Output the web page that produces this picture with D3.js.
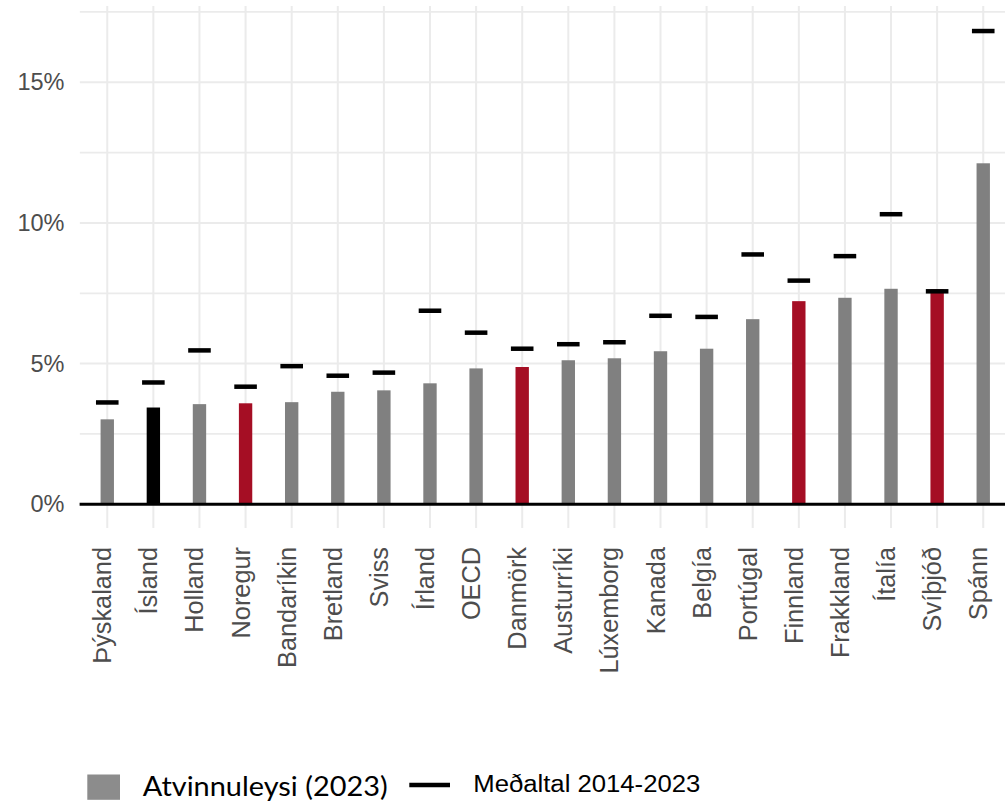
<!DOCTYPE html>
<html>
<head>
<meta charset="utf-8">
<script src="https://cdn.jsdelivr.net/npm/d3@7"></script>
<style>
  html, body { margin: 0; padding: 0; background: #fff; }
  svg { display: block; }
</style>
</head>
<body>
<div id="chart"></div>
<script>
const categories = ["Þýskaland", "Ísland", "Holland", "Noregur", "Bandaríkin", "Bretland", "Sviss", "Írland", "OECD", "Danmörk", "Austurríki", "Lúxemborg", "Kanada", "Belgía", "Portúgal", "Finnland", "Frakkland", "Ítalía", "Svíþjóð", "Spánn"];
const unemployment2023 = [3.02, 3.44, 3.56, 3.59, 3.63, 4.00, 4.05, 4.30, 4.83, 4.88, 5.12, 5.19, 5.44, 5.53, 6.58, 7.22, 7.34, 7.66, 7.64, 12.12];
const average2014_2023 = [3.62, 4.33, 5.47, 4.18, 4.91, 4.57, 4.68, 6.88, 6.10, 5.53, 5.69, 5.76, 6.70, 6.66, 8.88, 7.95, 8.82, 10.31, 7.57, 16.82];
const groups = ["other", "iceland", "other", "nordic", "other", "other", "other", "other", "other", "nordic", "other", "other", "other", "other", "other", "nordic", "other", "other", "nordic", "other"];
const majorTicks = [0, 5, 10, 15];
const majorTickLabels = ["0%", "5%", "10%", "15%"];
const minorTicks = [2.5, 7.5, 12.5, 17.5];
const legendLabels = ["Atvinnuleysi (2023)", "Meðaltal 2014-2023"];

const W = 1005, H = 802;
const groupColor = { other: "#808080", iceland: "#000000", nordic: "#a50e24" };

const svg = d3.select("#chart").append("svg").attr("width", W).attr("height", H);

const panel = { left: 79.6, right: 1010.9, top: 6, bottom: 528 };

const x = d3.scalePoint().domain(categories).range([panel.left, panel.right]).padding(0.6);
const y = d3.scaleLinear().domain([-0.842, 17.71]).range([panel.bottom, panel.top]);
const step = x.step();

svg.append("defs").append("clipPath").attr("id", "clip")
  .append("rect").attr("x", panel.left).attr("y", panel.top)
  .attr("width", W - panel.left).attr("height", panel.bottom - panel.top);

const grid = svg.append("g").attr("clip-path", "url(#clip)");
grid.selectAll("line.hmin").data(minorTicks).join("line")
  .attr("x1", panel.left).attr("x2", W)
  .attr("y1", d => y(d)).attr("y2", d => y(d))
  .attr("stroke", "#ebebeb").attr("stroke-width", 1.8);
grid.selectAll("line.hmaj").data(majorTicks).join("line")
  .attr("x1", panel.left).attr("x2", W)
  .attr("y1", d => y(d)).attr("y2", d => y(d))
  .attr("stroke", "#ebebeb").attr("stroke-width", 2);
grid.selectAll("line.v").data(categories).join("line")
  .attr("x1", d => x(d)).attr("x2", d => x(d))
  .attr("y1", panel.top).attr("y2", panel.bottom)
  .attr("stroke", "#ebebeb").attr("stroke-width", 2);

const data = categories.map((c, i) => ({ c, v: unemployment2023[i], m: average2014_2023[i], g: groups[i] }));

const barW = step * 0.29;
svg.append("g").selectAll("rect").data(data).join("rect")
  .attr("x", d => x(d.c) - barW / 2)
  .attr("width", barW)
  .attr("y", d => y(d.v))
  .attr("height", d => y(0) - y(d.v))
  .attr("fill", d => groupColor[d.g]);

svg.append("line")
  .attr("x1", panel.left).attr("x2", W)
  .attr("y1", y(0)).attr("y2", y(0))
  .attr("stroke", "#000").attr("stroke-width", 3);

const tickW = step * 0.49;
svg.append("g").selectAll("line").data(data).join("line")
  .attr("x1", d => x(d.c) - tickW / 2).attr("x2", d => x(d.c) + tickW / 2)
  .attr("y1", d => y(d.m)).attr("y2", d => y(d.m))
  .attr("stroke", "#000").attr("stroke-width", 4.5);

const yAxis = d3.axisLeft(y).tickValues(majorTicks).tickSize(0).tickPadding(0)
  .tickFormat((d, i) => majorTickLabels[i]);
const yg = svg.append("g").attr("transform", "translate(64.5,0)").call(yAxis);
yg.attr("font-family", null).attr("font-size", null);
yg.select(".domain").remove();
yg.selectAll("text")
  .style("font-family", "'Liberation Sans', Arial, sans-serif")
  .style("font-size", "23.5px").attr("fill", "#4d4d4d");

const xAxis = d3.axisBottom(x).tickSize(0).tickPadding(0);
const xg = svg.append("g").call(xAxis);
xg.attr("font-family", null).attr("font-size", null);
xg.select(".domain").remove();
xg.selectAll(".tick").attr("transform", d => `translate(${x(d)},547)`);
xg.selectAll("text")
  .style("font-family", "'Liberation Sans', Arial, sans-serif")
  .style("font-size", "25.3px").attr("fill", "#4d4d4d")
  .attr("transform", "rotate(-90)")
  .attr("text-anchor", "end")
  .attr("x", 0).attr("y", 0).attr("dy", "4px");

const lg = svg.append("g");
lg.append("rect").attr("x", 87.3).attr("y", 774.5).attr("width", 32.7).attr("height", 25.3).attr("fill", "#8c8c8c");
lg.append("text").attr("x", 142.7).attr("y", 795.5)
  .style("font-family", "Lato, sans-serif").style("font-size", "26px").attr("fill", "#000")
  .attr("textLength", 245).attr("lengthAdjust", "spacingAndGlyphs")
  .text(legendLabels[0]);
lg.append("line").attr("x1", 409.3).attr("x2", 450).attr("y1", 785).attr("y2", 785)
  .attr("stroke", "#000").attr("stroke-width", 4.3);
lg.append("text").attr("x", 473.3).attr("y", 792.3)
  .style("font-family", "'Liberation Sans', Arial, sans-serif").style("font-size", "23.3px").attr("fill", "#000")
  .attr("textLength", 227).attr("lengthAdjust", "spacingAndGlyphs")
  .text(legendLabels[1]);
</script>
</body>
</html>
